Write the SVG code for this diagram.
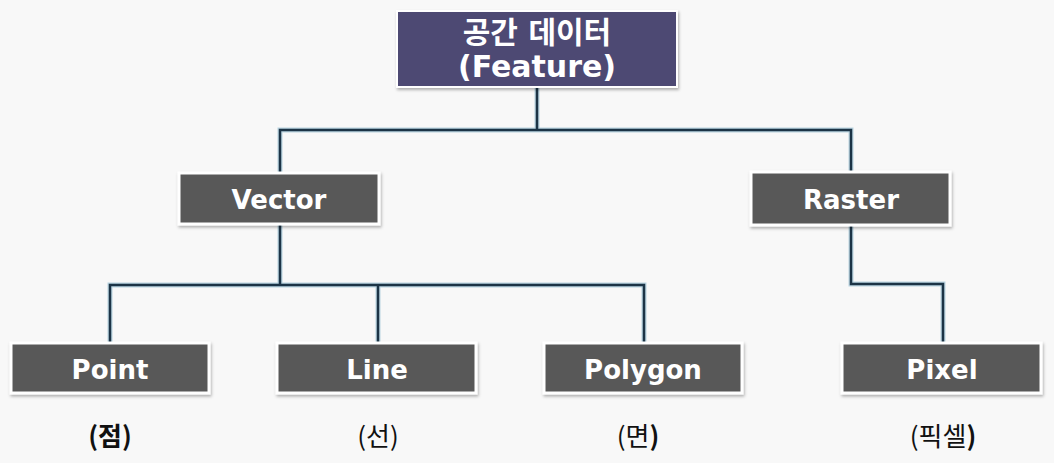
<svg xmlns="http://www.w3.org/2000/svg" width="1054" height="463" viewBox="0 0 1054 463">
<defs>
<filter id="sh" x="-10%" y="-20%" width="120%" height="150%">
<feDropShadow dx="1" dy="2" stdDeviation="1.5" flood-color="#000" flood-opacity="0.3"/>
</filter>
</defs>
<style>
.box{fill:#595959;stroke:#ffffff;stroke-width:3;filter:url(#sh)}
.top{fill:#4e4873;stroke:#ffffff;stroke-width:2;filter:url(#sh)}
.t{font-family:"DejaVu Sans","Noto Sans CJK KR",sans-serif;font-weight:bold;fill:#ffffff;text-anchor:middle;font-size:26px}
.tt{font-family:"DejaVu Sans","Noto Sans CJK KR",sans-serif;font-weight:bold;fill:#ffffff;text-anchor:middle;font-size:30px}
.lb{font-family:"Noto Sans CJK KR","DejaVu Sans",sans-serif;fill:#111111;text-anchor:middle;font-size:26px}
.c1{fill:none;stroke:#b9d3e0;stroke-width:5}
.c2{fill:none;stroke:#1c3446;stroke-width:2.5}
</style>
<rect width="1054" height="463" fill="#f8f8f8"/>
<g id="connectors">
<path class="c1" d="M537 87V130M280 173V130H851V172M280 224V285M110 343V285H644V343M378 285V343M851 225V284H943V343"/>
<path class="c2" d="M537 87V130M280 173V130H851V172M280 224V285M110 343V285H644V343M378 285V343M851 225V284H943V343"/>
</g>
<g id="feature">
<rect class="top" x="397" y="11" width="280" height="76"/>
<text class="tt" x="537" y="43">공간 데이터</text>
<text class="tt" x="537" y="77">(Feature)</text>
</g>
<g id="vector">
<rect class="box" x="179" y="173" width="200" height="51"/>
<text class="t" x="279" y="209">Vector</text>
</g>
<g id="raster">
<rect class="box" x="751" y="172" width="199" height="53"/>
<text class="t" x="851" y="209">Raster</text>
</g>
<g id="point">
<rect class="box" x="11" y="343" width="198" height="50"/>
<text class="t" x="110" y="379">Point</text>
<text class="lb" x="110" y="446" font-weight="bold">(점)</text>
</g>
<g id="line">
<rect class="box" x="277" y="343" width="199" height="50"/>
<text class="t" x="377" y="379">Line</text>
<text class="lb" x="378" y="446">(선)</text>
</g>
<g id="polygon">
<rect class="box" x="544" y="343" width="198" height="50"/>
<text class="t" x="643" y="379">Polygon</text>
<text class="lb" x="638" y="446">(면<tspan font-weight="bold">)</tspan></text>
</g>
<g id="pixel">
<rect class="box" x="842" y="343" width="199" height="50"/>
<text class="t" x="942" y="379">Pixel</text>
<text class="lb" x="943" y="446">(픽셀<tspan font-weight="bold">)</tspan></text>
</g>
</svg>
